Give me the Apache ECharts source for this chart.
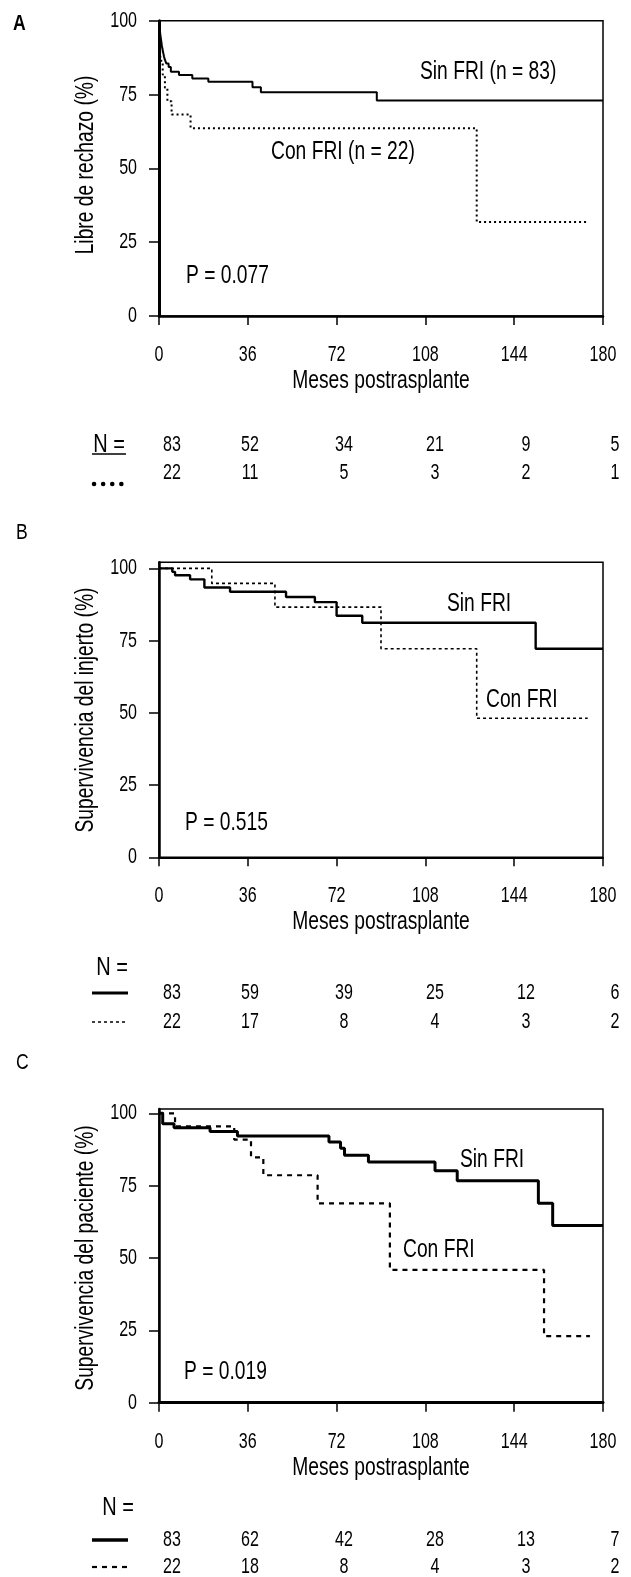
<!DOCTYPE html>
<html>
<head>
<meta charset="utf-8">
<script src="https://cdn.jsdelivr.net/npm/echarts@6/dist/echarts.min.js"></script>
<style>
html,body{margin:0;padding:0;background:#fff;}
#chart{width:631px;height:1577px;}
</style>
</head>
<body>
<div id="chart"></div>
<script>
// ticks de los ejes
var mesesTicks = [0, 36, 72, 108, 144, 180];
var pctTicks = [0, 25, 50, 75, 100];

// curvas Kaplan-Meier [mes, %]
// A: libre de rechazo
var rechazoSin = [[0,100],[0.1,98.8],[0.25,97.6],[0.4,96.4],[0.55,95.2],[0.75,94.0],[0.95,92.8],[1.15,91.6],
    [1.4,90.4],[1.7,89.2],[2.0,88.0],[2.4,86.7],[3.0,85.5],[3.9,84.3],[4.8,82.7],[8.1,81.6],[13.5,80.4],
    [20.0,79.3],[37.9,77.5],[41.3,75.8],[88.3,73.0],[180,73.0]];
var rechazoCon = [[0,100],[0.6,86.4],[1.5,81.8],[2.4,77.3],[3.4,72.7],[5.1,68.2],[12.8,63.6],[128.8,31.8],[173.5,31.8]];
// B: supervivencia del injerto
var injertoSin = [[0,100],[5.4,98.8],[6.5,97.6],[12.6,96.2],[18.4,93.4],[28.8,91.9],[51.5,90.1],[63.2,88.3],
    [72.0,83.6],[82.4,81.2],[152.7,72.2],[180,72.2]];
var injertoCon = [[0,100],[21.4,94.8],[47.0,86.6],[90.0,72.2],[128.8,48.1],[173.8,48.1]];
// C: supervivencia del paciente
var pacienteSin = [[0,100],[1.5,96.4],[6.1,95.0],[20.7,93.7],[31.8,92.2],[68.9,90.1],[73.6,87.9],[75.2,85.5],
    [84.9,83.2],[111.9,80.2],[120.9,76.7],[153.8,68.9],[159.6,61.2],[180,61.2]];
var pacienteCon = [[0,100],[6.5,95.5],[30.5,90.9],[37.3,84.8],[42.3,78.6],[64.3,68.9],[93.6,45.9],[156.1,23.0],[174.7,23.0]];

// pacientes en riesgo (N =)
var nRechazoSin = [83, 52, 34, 21, 9, 5];
var nRechazoCon = [22, 11, 5, 3, 2, 1];
var nInjertoSin = [83, 59, 39, 25, 12, 6];
var nInjertoCon = [22, 17, 8, 4, 3, 2];
var nPacienteSin = [83, 62, 42, 28, 13, 7];
var nPacienteCon = [22, 18, 8, 4, 3, 2];

var letras = ['A', 'B', 'C'];
var titulosY = ['Libre de rechazo (%)', 'Supervivencia del injerto (%)', 'Supervivencia del paciente (%)'];
var tituloX = 'Meses postrasplante';
var etiquetasSin = ['Sin FRI (n = 83)', 'Sin FRI', 'Sin FRI'];
var etiquetasCon = ['Con FRI (n = 22)', 'Con FRI', 'Con FRI'];
var pValores = ['P = 0.077', 'P = 0.515', 'P = 0.019'];

// no hay Arial Narrow: Liberation Sans estrechada
var FONT = '"Liberation Sans", Arial, sans-serif';

// posiciones de cada panel (px)
var paneles = [
    {top: 20.7, height: 295.3, max: 100, axW: 3, xAxW: 2.5, yTit: 165,
     solidW: 2, dashW: 2, dash: [2, 3], letra: [13, 24, 'bold'],
     sin: [420, 72], con: [271, 152], p: [186, 276],
     nx: 109, nEq: 445, fila1: 445, fila2: 473, marca1: 454, marca2: 484, nSin: rechazoSin, nCon: rechazoCon,
     riesgoSin: nRechazoSin, riesgoCon: nRechazoCon},
    {top: 562.3, height: 295, max: 102.1, axW: 2.5, xAxW: 2, yTit: 710,
     solidW: 2.4, dashW: 1.6, dash: [3, 3], letra: [16, 533, 'normal'],
     sin: [447, 604], con: [486, 700], p: [185, 823],
     nx: 112, nEq: 968, fila1: 993, fila2: 1022, marca1: 993, marca2: 1022, nSin: injertoSin, nCon: injertoCon,
     riesgoSin: nInjertoSin, riesgoCon: nInjertoCon},
    {top: 1109, height: 293.7, max: 101.5, axW: 2.5, xAxW: 3, yTit: 1258,
     solidW: 3, dashW: 2.2, dash: [5, 5], letra: [16, 1063, 'normal'],
     sin: [460, 1160], con: [403, 1250], p: [184, 1372],
     nx: 118, nEq: 1508, fila1: 1540, fila2: 1567, marca1: 1540, marca2: 1567, nSin: pacienteSin, nCon: pacienteCon,
     riesgoSin: nPacienteSin, riesgoCon: nPacienteCon}
];
var colN = [172, 250, 344, 435, 526, 615];

var grids = [], xAxes = [], yAxes = [], series = [];

paneles.forEach(function (p, i) {
    grids.push({left: 159, width: 444, top: p.top, height: p.height, show: true,
        borderColor: '#000', borderWidth: 1.5, backgroundColor: 'transparent'});
    xAxes.push({
        type: 'value', gridIndex: i, min: 0, max: 180, interval: 36,
        axisLine: {show: true, onZero: false, lineStyle: {color: '#000', width: p.xAxW}},
        axisTick: {show: true, length: 9, lineStyle: {color: '#000', width: 1.5}},
        axisLabel: {show: false},
        splitLine: {show: false}
    });
    yAxes.push({
        type: 'value', gridIndex: i, min: 0, max: p.max, interval: 25,
        axisLine: {show: true, lineStyle: {color: '#000', width: p.axW}},
        axisTick: {show: true, length: 10, lineStyle: {color: '#000', width: 1.5}, customValues: pctTicks},
        axisLabel: {show: false},
        splitLine: {show: false}
    });
    series.push({
        type: 'line', xAxisIndex: i, yAxisIndex: i, step: 'end', symbol: 'none', clip: false,
        data: p.nSin, lineStyle: {color: '#000', width: p.solidW}, z: 3
    });
    series.push({
        type: 'line', xAxisIndex: i, yAxisIndex: i, step: 'end', symbol: 'none', clip: false,
        data: p.nCon, lineStyle: {color: '#000', width: p.dashW, type: p.dash}, z: 2
    });
});

var myChart = echarts.init(document.getElementById('chart'));
myChart.setOption({
    animation: false,
    grid: grids,
    xAxis: xAxes,
    yAxis: yAxes,
    series: series
});

// texto estrechado (sx) para imitar la letra condensada del original
function texto(t, x, y, size, sx, align, weight, rot) {
    return {
        type: 'text', x: x, y: y, scaleX: sx, rotation: rot || 0, silent: true,
        style: {text: t, fill: '#000', fontSize: size, fontFamily: FONT, fontWeight: weight || 'normal',
            align: align, textAlign: align, verticalAlign: 'middle', textVerticalAlign: 'middle'}
    };
}
function linea(x1, x2, y, w, dash, cap) {
    return {
        type: 'line', silent: true, shape: {x1: x1, y1: y, x2: x2, y2: y},
        style: {stroke: '#000', lineWidth: w, lineDash: dash || null, lineCap: cap || 'butt'}
    };
}

// etiquetas de los ejes, colocadas con las escalas de cada eje
var graphics = [];
paneles.forEach(function (p, i) {
    var y0 = myChart.convertToPixel({yAxisIndex: i}, 0);
    mesesTicks.forEach(function (v) {
        var x = myChart.convertToPixel({xAxisIndex: i}, v);
        graphics.push(texto(String(v), x, y0 + 39, 22, 0.73, 'center'));
    });
    pctTicks.forEach(function (v) {
        var y = myChart.convertToPixel({yAxisIndex: i}, v);
        graphics.push(texto(String(v), 137, y, 22, 0.73, 'right'));
    });
    graphics.push(texto(tituloX, myChart.convertToPixel({xAxisIndex: i}, 90), y0 + 65, 25, 0.77, 'center'));
    graphics.push(texto(titulosY[i], 86, p.yTit, 25, 0.77, 'center', 'normal', Math.PI / 2));

    graphics.push(texto(letras[i], p.letra[0], p.letra[1], 22, 0.8, 'left', p.letra[2]));
    graphics.push(texto(etiquetasSin[i], p.sin[0], p.sin[1], 25, 0.77, 'left'));
    graphics.push(texto(etiquetasCon[i], p.con[0], p.con[1], 25, 0.77, 'left'));
    graphics.push(texto(pValores[i], p.p[0], p.p[1], 25, 0.77, 'left'));

    // tabla de pacientes en riesgo
    graphics.push(texto('N =', p.nx, p.nEq, 25, 0.8, 'center'));
    p.riesgoSin.forEach(function (n, k) { graphics.push(texto(String(n), colN[k], p.fila1, 22, 0.73, 'center')); });
    p.riesgoCon.forEach(function (n, k) { graphics.push(texto(String(n), colN[k], p.fila2, 22, 0.73, 'center')); });
    if (i === 0) {
        graphics.push(linea(92, 126, p.marca1, 1.5));
        graphics.push(linea(94, 126, p.marca2, 4.5, [0.1, 9], 'round'));
    } else {
        graphics.push(linea(92, 128, p.marca1, p.solidW + 0.6));
        graphics.push(linea(92, 128, p.marca2, p.dashW, p.dash));
    }
});
myChart.setOption({graphic: {elements: graphics}});
</script>
</body>
</html>
